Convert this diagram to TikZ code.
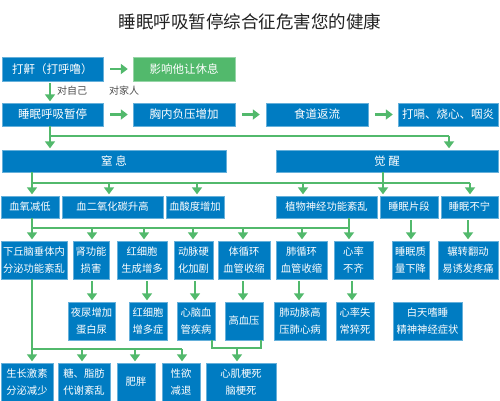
\documentclass[tikz,border=0pt]{standalone}
\usepackage{fontspec}
\newfontfamily\cjk{Noto Sans CJK SC}
\usetikzlibrary{arrows.meta}
\definecolor{boxblue}{RGB}{0,124,194}
\definecolor{agreen}{RGB}{82,185,108}
\definecolor{ttl}{RGB}{34,34,34}
\tikzset{
  bx/.style={fill=boxblue, draw=boxblue!60!white, line width=0.4pt, text=white, inner sep=0pt, align=center},
  big/.style={font=\cjk\fontsize{11.5}{15}\selectfont},
  sml/.style={font=\cjk\fontsize{10.3}{17}\selectfont},
  ln/.style={draw=agreen, line width=2.6pt},
  arw/.style={draw=agreen, line width=2.6pt, -{Triangle[width=10pt,length=7pt]}, shorten >=1.5pt},
  lbl/.style={font=\cjk\fontsize{10}{12}\selectfont, text=black!70, inner sep=0pt}
}
\begin{document}
\begin{tikzpicture}[x=1pt,y=-1pt]
\useasboundingbox (0,0) rectangle (500,400);
% title
\node[font=\cjk\fontsize{17.5}{20}\selectfont, text=ttl] (title) at (250,22) {睡眠呼吸暂停综合征危害您的健康};
% row 1
\node[bx,big,minimum width=101pt,minimum height=24pt] (snore) at (52.5,69) {打鼾（打呼噜）};
\node[bx,big,fill=agreen,draw=agreen!60!white,minimum width=102pt,minimum height=24pt] (affect) at (184,69) {影响他让休息};
\node[lbl] (self) at (72,91) {对自己};
\node[lbl] (family) at (124,91) {对家人};
% row 2
\node[bx,big,minimum width=101pt,minimum height=23pt] (apnea) at (52.5,114.5) {睡眠呼吸暂停};
\node[bx,big,minimum width=102pt,minimum height=23pt] (chest) at (184,114.5) {胸内负压增加};
\node[bx,big,minimum width=102pt,minimum height=23pt] (reflux) at (317,114.5) {食道返流};
\node[bx,big,minimum width=100pt,minimum height=23pt] (hic) at (448,114.5) {打嗝、烧心、咽炎};
% row 3
\node[bx,big,minimum width=224pt,minimum height=22pt] (suff) at (114,161) {窒\ 息};
\node[bx,big,minimum width=222pt,minimum height=22pt] (wake) at (387,161) {觉\ 醒};
% row 4
\node[bx,sml,minimum width=58pt,minimum height=22pt] (hypox) at (30,207) {血氧减低};
\node[bx,sml,minimum width=101pt,minimum height=22pt] (co2) at (112.5,207) {血二氧化碳升高};
\node[bx,sml,minimum width=58pt,minimum height=22pt] (acid) at (195,207) {血酸度增加};
\node[bx,sml,minimum width=101pt,minimum height=22pt] (auto) at (326.5,207) {植物神经功能紊乱};
\node[bx,sml,minimum width=58pt,minimum height=22pt] (frag) at (409,207) {睡眠片段};
\node[bx,sml,minimum width=57pt,minimum height=22pt] (restless) at (469.5,207) {睡眠不宁};
% row 5
\node[bx,sml,minimum width=66pt,minimum height=38pt] (hypo) at (34,260) {下丘脑垂体内\\分泌功能紊乱};
\node[bx,sml,minimum width=36pt,minimum height=38pt] (kidney) at (91,260) {肾功能\\损害};
\node[bx,sml,minimum width=50pt,minimum height=38pt] (rbc) at (142,260) {红细胞\\生成增多};
\node[bx,sml,minimum width=39pt,minimum height=38pt] (athero) at (193.5,260) {动脉硬\\化加剧};
\node[bx,sml,minimum width=52pt,minimum height=38pt] (sys) at (244,260) {体循环\\血管收缩};
\node[bx,sml,minimum width=51pt,minimum height=38pt] (pul) at (301.5,260) {肺循环\\血管收缩};
\node[bx,sml,minimum width=39pt,minimum height=38pt] (irr) at (353.5,260) {心率\\不齐};
\node[bx,sml,minimum width=37pt,minimum height=38pt] (quality) at (410.5,260) {睡眠质\\量下降};
\node[bx,sml,minimum width=60pt,minimum height=38pt] (toss) at (468,260) {辗转翻动\\易诱发疼痛};
% row 6
\node[bx,sml,minimum width=47pt,minimum height=38pt] (noct) at (91.5,321) {夜尿增加\\蛋白尿};
\node[bx,sml,minimum width=38pt,minimum height=38pt] (poly) at (148,321) {红细胞\\增多症};
\node[bx,sml,minimum width=38pt,minimum height=38pt] (cvd) at (196,321) {心脑血\\管疾病};
\node[bx,sml,minimum width=38pt,minimum height=38pt] (htn) at (244,321) {高血压};
\node[bx,sml,minimum width=52pt,minimum height=38pt] (cor) at (300,321) {肺动脉高\\压肺心病};
\node[bx,sml,minimum width=38pt,minimum height=38pt] (death) at (355,321) {心率失\\常猝死};
\node[bx,sml,minimum width=69pt,minimum height=38pt] (day) at (427.5,321) {白天嗜睡\\精神神经症状};
% row 7
\node[bx,sml,minimum width=52pt,minimum height=38pt] (gh) at (27,382) {生长激素\\分泌减少};
\node[bx,sml,minimum width=52pt,minimum height=38pt] (meta) at (84,382) {糖、脂肪\\代谢紊乱};
\node[bx,sml,minimum width=38pt,minimum height=38pt] (obese) at (136,382) {肥胖};
\node[bx,sml,minimum width=38pt,minimum height=38pt] (libido) at (181,382) {性欲\\减退};
\node[bx,sml,minimum width=70pt,minimum height=38pt] (mi) at (241,382) {心肌梗死\\脑梗死};
% --- connectors
% row1/2
\draw[arw,shorten <=2pt] (50,0 |- snore.south) -- (50,0 |- apnea.north);
\draw[arw,shorten <=7pt,shorten >=5pt] (snore.east) -- (affect.west);
\draw[arw,shorten <=7pt,shorten >=5pt] (apnea.east) -- (chest.west);
\draw[arw,shorten <=7pt,shorten >=6pt] (chest.east) -- (reflux.west);
\draw[arw,shorten <=7pt,shorten >=5pt] (reflux.east) -- (hic.west);
% row2 -> row3
\coordinate (b1) at (50,136);
\coordinate (b1r) at (449,136);
\draw[ln] (b1) -- (b1r);
\draw[arw] (b1 |- apnea.south) -- (b1 |- suff.north);
\draw[arw] (b1r) -- (b1r |- wake.north);
% row3 -> row4
\coordinate (b2l) at (32,183);
\coordinate (b2r) at (470,183);
\draw[ln] (b2l) -- (b2r);
\draw[arw] (b2l |- suff.south) -- (b2l |- hypox.north);
\draw[arw] (383,0 |- wake.south) -- (383,0 |- frag.north);
\draw[arw] (109,0 |- b2l) -- (109,0 |- co2.north);
\draw[arw] (197,0 |- b2l) -- (197,0 |- acid.north);
\draw[arw] (303,0 |- b2l) -- (303,0 |- auto.north);
\draw[arw] (b2r) -- (b2r |- restless.north);
% row4 -> row5
\coordinate (b3l) at (32,228);
\coordinate (b3r) at (349,228);
\draw[ln] (b3l) -- (b3r);
\draw[arw] (b3l |- hypox.south) -- (b3l |- hypo.north);
\draw[arw] (b3r |- auto.south) -- (b3r |- irr.north);
\draw[arw] (92,0 |- b3l) -- (92,0 |- kidney.north);
\draw[arw] (144,0 |- b3l) -- (144,0 |- rbc.north);
\draw[arw] (193,0 |- b3l) -- (193,0 |- athero.north);
\draw[arw] (243,0 |- b3l) -- (243,0 |- sys.north);
\draw[arw] (302,0 |- b3l) -- (302,0 |- pul.north);
\draw[arw,shorten <=2pt] (411,0 |- frag.south) -- (411,0 |- quality.north);
\draw[arw,shorten <=2pt] (468,0 |- restless.south) -- (468,0 |- toss.north);
% row5 -> row6
\draw[arw,shorten <=2pt] (92,0 |- kidney.south) -- (92,0 |- noct.north);
\draw[arw,shorten <=2pt] (147,0 |- rbc.south) -- (147,0 |- poly.north);
\draw[arw,shorten <=2pt] (195,0 |- athero.south) -- (195,0 |- cvd.north);
\draw[arw,shorten <=2pt] (243,0 |- sys.south) -- (243,0 |- htn.north);
\draw[arw,shorten <=2pt] (299,0 |- pul.south) -- (299,0 |- cor.north);
\draw[arw,shorten <=2pt] (352,0 |- irr.south) -- (352,0 |- death.north);
% row5 -> row7
\coordinate (b4l) at (32,349);
\coordinate (b4r) at (182,349);
\draw[ln] (b4l |- hypo.south) -- (b4l) -- (b4r);
\draw[arw] (b4l) -- (b4l |- gh.north);
\draw[arw] (82,0 |- b4l) -- (82,0 |- meta.north);
\draw[arw] (135,0 |- b4l) -- (135,0 |- obese.north);
\draw[arw] (b4r) -- (b4r |- libido.north);
% row6 -> row7
\coordinate (b5l) at (212,348);
\coordinate (b5r) at (261,348);
\draw[ln] (b5l |- cvd.south) -- (b5l) -- (b5r) -- (b5r |- htn.south);
\draw[arw] (237,0 |- b5l) -- (237,0 |- mi.north);
\end{tikzpicture}
\end{document}
